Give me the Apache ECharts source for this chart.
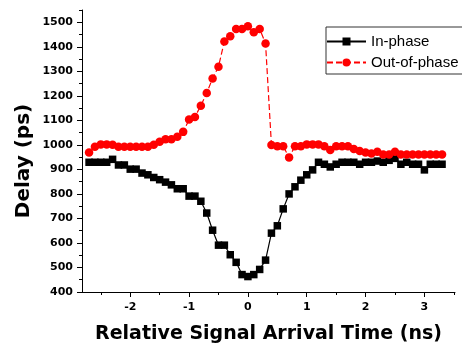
<!DOCTYPE html>
<html>
<head>
<meta charset="utf-8">
<script src="https://cdn.jsdelivr.net/npm/echarts@6/dist/echarts.min.js"></script>
<style>
  html, body { margin: 0; padding: 0; background: #fff; }
  #chart { width: 462px; height: 349px; }
</style>
</head>
<body>
<div id="chart"></div>
<script>
// Relative signal arrival time (ns)
var time = [-2.7, -2.6, -2.5, -2.4, -2.3, -2.2, -2.1, -2.0, -1.9, -1.8, -1.7, -1.6, -1.5, -1.4, -1.3, -1.2, -1.1, -1.0,
  -0.9, -0.8, -0.7, -0.6, -0.5, -0.4, -0.3, -0.2, -0.1, 0.0, 0.1, 0.2, 0.3, 0.4, 0.5, 0.6, 0.7, 0.8, 0.9, 1.0,
  1.1, 1.2, 1.3, 1.4, 1.5, 1.6, 1.7, 1.8, 1.9, 2.0, 2.1, 2.2, 2.3, 2.4, 2.5, 2.6, 2.7, 2.8, 2.9, 3.0, 3.1, 3.2, 3.3];

// Delay (ps)
var inPhase = [929, 929, 929, 929, 941, 918, 918, 901, 901, 885, 878, 867, 858, 848, 837, 821, 821, 791,
  791, 770, 722, 652, 591, 591, 552, 521, 471, 463, 471, 492, 530, 640, 670, 739, 800, 829, 856, 878,
  898, 929, 921, 910, 921, 929, 929, 929, 921, 929, 929, 934, 929, 937, 945, 921, 929, 921, 921, 898, 921, 921, 921];

var outOfPhase = [969, 992, 1002, 1002, 1000, 992, 992, 992, 992, 992, 992, 1000, 1013, 1023, 1023, 1033, 1053, 1103,
  1114, 1160, 1212, 1271, 1319, 1422, 1443, 1473, 1473, 1484, 1459, 1473, 1413, 999, 994, 994, 949, 994, 994, 1002,
  1002, 1002, 994, 979, 994, 994, 994, 983, 975, 969, 965, 972, 961, 961, 972, 961, 961, 961, 961, 961, 961, 961, 961];

var seriesNames = ['In-phase', 'Out-of-phase'];

var xMajorTicks = [-2, -1, 0, 1, 2, 3];
var xMinorTicks = [-2.5, -1.5, -0.5, 0.5, 1.5, 2.5, 3.5];
var yMajorTicks = [400, 500, 600, 700, 800, 900, 1000, 1100, 1200, 1300, 1400, 1500];
var yMinorTicks = [450, 550, 650, 750, 850, 950, 1050, 1150, 1250, 1350, 1450, 1550];

var xTitle = 'Relative Signal Arrival Time (ns)';
var yTitle = 'Delay (ps)';

function pairs(xs, ys) {
  return xs.map(function (x, i) { return [x, ys[i]]; });
}

var chart = echarts.init(document.getElementById('chart'), null, { renderer: 'canvas' });

var labelFont = { fontFamily: 'DejaVu Sans', fontWeight: 'bold', fontSize: 11, color: '#000' };
function plain(v) { return String(v); }

chart.setOption({
  animation: false,
  backgroundColor: '#fff',
  grid: { left: 82, right: 7, top: 10, bottom: 54, containLabel: false },
  legend: {
    orient: 'vertical',
    left: 326,
    top: 27,
    itemWidth: 39,
    itemHeight: 10,
    itemGap: 6,
    padding: [7, 4, 4, 0],
    borderColor: '#333',
    borderWidth: 1,
    textStyle: { fontFamily: 'Liberation Sans', fontSize: 15, color: '#000' },
    data: seriesNames
  },
  xAxis: [{
    type: 'value',
    min: -2.82,
    max: 3.52,
    position: 'bottom',
    axisLine: { show: true, onZero: false, lineStyle: { color: '#000', width: 1 } },
    axisTick: { show: true, customValues: xMajorTicks, length: 5, lineStyle: { color: '#000' } },
    axisLabel: Object.assign({ customValues: xMajorTicks, margin: 10, formatter: plain }, labelFont),
    splitLine: { show: false },
    name: xTitle,
    nameLocation: 'middle',
    nameGap: 33,
    nameTextStyle: { fontFamily: 'DejaVu Sans', fontWeight: 'bold', fontSize: 19, color: '#000' }
  }, {
    type: 'value',
    min: -2.82,
    max: 3.52,
    position: 'bottom',
    axisLine: { show: false, onZero: false },
    axisTick: { show: true, customValues: xMinorTicks, length: 3, lineStyle: { color: '#000' } },
    axisLabel: { show: false },
    splitLine: { show: false }
  }],
  yAxis: [{
    type: 'value',
    min: 400,
    max: 1550,
    position: 'left',
    axisLine: { show: true, onZero: false, lineStyle: { color: '#000', width: 1 } },
    axisTick: { show: true, customValues: yMajorTicks, length: 5, lineStyle: { color: '#000' } },
    axisLabel: Object.assign({ customValues: yMajorTicks, margin: 9, formatter: plain }, labelFont),
    splitLine: { show: false }
  }, {
    type: 'value',
    min: 400,
    max: 1550,
    position: 'left',
    axisLine: { show: false, onZero: false },
    axisTick: { show: true, customValues: yMinorTicks, length: 3, lineStyle: { color: '#000' } },
    axisLabel: { show: false },
    splitLine: { show: false }
  }],
  graphic: [{
    type: 'text',
    x: 24,
    y: 161,
    rotation: Math.PI / 2,
    style: {
      text: yTitle,
      fontFamily: 'DejaVu Sans',
      fontWeight: 'bold',
      fontSize: 20,
      fill: '#000',
      align: 'center',
      verticalAlign: 'middle'
    }
  }],
  series: [{
    name: seriesNames[0],
    type: 'line',
    xAxisIndex: 0,
    yAxisIndex: 0,
    data: pairs(time, inPhase),
    symbol: 'rect',
    symbolSize: 7.5,
    itemStyle: { color: '#000' },
    lineStyle: { color: '#000', width: 1.2 },
    z: 2
  }, {
    name: seriesNames[1],
    type: 'line',
    xAxisIndex: 0,
    yAxisIndex: 0,
    data: pairs(time, outOfPhase),
    symbol: 'circle',
    symbolSize: 8.5,
    itemStyle: { color: '#ff0000' },
    lineStyle: { color: '#ff0000', width: 1.2, type: [6, 3] },
    z: 3
  }]
});
</script>
</body>
</html>
